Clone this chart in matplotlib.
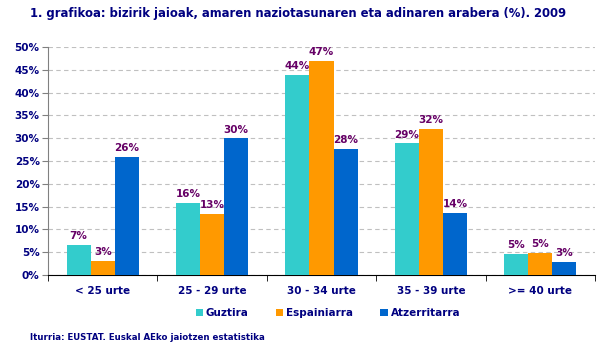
import matplotlib.pyplot as plt
import numpy as np

categories = ["< 25 urte", "25 - 29 urte", "30 - 34 urte", "35 - 39 urte", ">= 40 urte"]
series_names = ["Guztira", "Espainiarra", "Atzerritarra"]
guztira = [6.6, 15.8, 43.9, 28.9, 4.6]
espainiarra = [3.1, 13.4, 46.9, 32.0, 4.8]
atzerritarra = [25.9, 30.0, 27.6, 13.6, 2.9]
colors = ["#33CCCC", "#FF9900", "#0066CC"]

navy = "#000080"
label_col = "#660066"

fig = plt.figure(figsize=(6.08, 3.5), dpi=100)
ax = fig.add_axes([48 / 608, 75 / 350, 547 / 608, 228 / 350])

x = np.arange(len(categories))
w = 0.22
for i, (vals, c) in enumerate(zip([guztira, espainiarra, atzerritarra], colors)):
    pos = x + (i - 1) * w
    ax.bar(pos, vals, width=w, color=c, label=series_names[i], zorder=3)
    for p, v in zip(pos, vals):
        ax.text(p, v + 0.8, f"{round(v):.0f}%", ha="center", va="bottom",
                fontsize=7.5, fontweight="bold", color=label_col, zorder=4)

ax.set_xlim(-0.5, len(categories) - 0.5)
ax.set_ylim(0, 50)
ax.set_yticks(np.arange(0, 51, 5))
ax.set_yticklabels([f"{t}%" for t in range(0, 51, 5)])
ax.yaxis.grid(True, linestyle=(0, (4, 3)), color="#C0C0C0", linewidth=0.8, zorder=0)

ax.set_xticks(x)
ax.set_xticklabels(categories)
ax.set_xticks(np.arange(-0.5, len(categories)), minor=True)
ax.tick_params(axis="x", which="major", length=0, pad=8)
ax.tick_params(axis="x", which="minor", length=4, color="black", direction="out")
ax.tick_params(axis="y", length=4, color="#808080", pad=2)
for lab in ax.get_xticklabels() + ax.get_yticklabels():
    lab.set_fontsize(7.5)
    lab.set_fontweight("bold")
    lab.set_color(navy)

for s in ["top", "right"]:
    ax.spines[s].set_visible(False)
ax.spines["left"].set_color("#808080")
ax.spines["bottom"].set_color("black")

fig.text(30 / 608, 1 - 14 / 350, "1. grafikoa: bizirik jaioak, amaren naziotasunaren eta adinaren arabera (%). 2009",
         fontsize=8.4, fontweight="bold", color=navy, va="center")
fig.text(30 / 608, 1 - 338 / 350, "Iturria: EUSTAT. Euskal AEko jaiotzen estatistika",
         fontsize=6.2, fontweight="bold", color=navy, va="center")

fig.legend(loc="center", bbox_to_anchor=(328 / 608, 1 - 313 / 350), ncol=3, frameon=False,
           prop={"size": 7.5, "weight": "bold"}, handlelength=0.7, handleheight=0.7,
           handletextpad=0.3, columnspacing=2.6, labelcolor=navy)

fig.savefig("out.png", dpi=100)
